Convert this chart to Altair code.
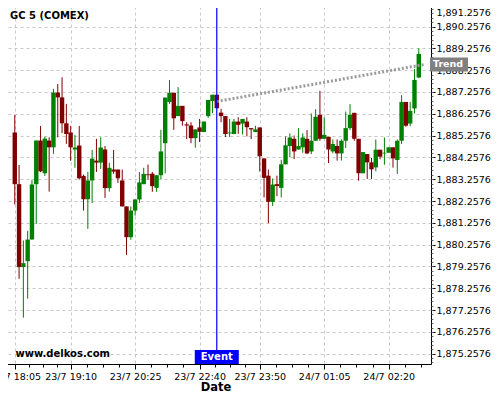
import altair as alt
import pandas as pd

# ---- candle data (5-minute bars, index = bar number) ----
opens = [
    1885.40, 1883.03, 1879.23, 1879.50, 1880.49, 1883.03, 1885.03, 1883.53, 1885.03, 1884.72,
    1887.23, 1887.01, 1885.82, 1885.40, 1884.62, 1884.80, 1883.41, 1882.34, 1883.20, 1884.11,
    1884.02, 1884.62, 1882.85, 1883.70, 1883.70, 1883.20, 1882.01, 1880.60, 1881.82, 1882.33,
    1883.03, 1883.48, 1883.51, 1882.86, 1883.44, 1884.91, 1886.80, 1887.22, 1886.15, 1886.62,
    1885.77, 1885.72, 1885.14, 1885.63, 1885.42, 1886.15, 1886.84, 1887.13, 1886.31, 1886.15,
    1885.36, 1885.33, 1885.90, 1885.81, 1885.90, 1885.60, 1885.42, 1885.63, 1884.21, 1883.42,
    1882.22, 1883.03, 1882.86, 1883.94, 1884.78, 1885.11, 1884.62, 1884.72, 1885.11, 1884.53,
    1885.02, 1886.21, 1885.11, 1885.20, 1884.53, 1884.78, 1884.44, 1885.02, 1885.60, 1886.30,
    1885.11, 1883.53, 1884.41, 1884.03, 1883.80, 1884.61, 1884.44, 1884.47, 1884.72, 1884.14,
    1885.02, 1886.80, 1885.81, 1886.50, 1887.92,
]
highs = [
    1886.20, 1883.91, 1880.45, 1880.89, 1883.23, 1885.03, 1885.70, 1885.21, 1885.18, 1887.40,
    1887.62, 1887.93, 1886.71, 1885.70, 1885.29, 1885.70, 1883.47, 1883.59, 1884.60, 1885.11,
    1885.18, 1884.78, 1884.01, 1884.60, 1883.70, 1883.70, 1882.01, 1882.01, 1882.33, 1883.59,
    1883.78, 1883.93, 1883.59, 1883.44, 1885.52, 1887.00, 1887.80, 1887.22, 1887.48, 1886.62,
    1885.87, 1885.87, 1885.54, 1886.02, 1885.90, 1886.89, 1887.13, 1887.13, 1886.48, 1886.15,
    1886.02, 1886.02, 1886.10, 1886.02, 1886.10, 1885.60, 1885.71, 1885.63, 1884.21, 1883.70,
    1883.29, 1883.42, 1884.15, 1885.22, 1885.36, 1885.26, 1885.60, 1885.36, 1885.51, 1886.27,
    1886.47, 1887.31, 1886.09, 1885.20, 1885.08, 1885.08, 1885.08, 1886.36, 1886.70, 1886.30,
    1885.11, 1884.50, 1884.41, 1884.23, 1885.08, 1884.61, 1885.17, 1884.72, 1884.72, 1885.08,
    1887.11, 1886.80, 1886.80, 1888.30, 1889.26,
]
lows = [
    1882.10, 1878.69, 1876.91, 1877.78, 1880.49, 1881.21, 1883.58, 1883.41, 1882.69, 1884.42,
    1885.18, 1885.37, 1884.88, 1884.10, 1883.78, 1883.24, 1881.82, 1880.98, 1882.17, 1883.59,
    1883.73, 1882.40, 1882.69, 1883.50, 1883.09, 1882.01, 1879.79, 1880.48, 1881.59, 1882.17,
    1883.03, 1883.24, 1882.68, 1882.68, 1883.26, 1883.52, 1886.71, 1885.52, 1886.15, 1885.71,
    1885.10, 1884.91, 1884.70, 1884.96, 1885.42, 1886.07, 1886.28, 1886.51, 1885.87, 1885.19,
    1885.19, 1885.33, 1885.34, 1885.31, 1885.22, 1885.10, 1885.42, 1883.61, 1882.42, 1881.24,
    1882.03, 1882.48, 1882.42, 1883.94, 1884.26, 1884.18, 1884.62, 1884.47, 1884.41, 1884.41,
    1885.02, 1885.02, 1885.11, 1884.00, 1884.44, 1884.11, 1884.11, 1884.69, 1885.51, 1885.02,
    1883.19, 1883.53, 1883.27, 1883.27, 1883.62, 1884.17, 1883.92, 1884.47, 1883.79, 1883.50,
    1884.87, 1885.66, 1885.69, 1886.27, 1887.89,
]
closes = [
    1883.03, 1879.23, 1879.41, 1880.49, 1883.01, 1885.03, 1883.62, 1885.12, 1884.72, 1887.23,
    1887.01, 1885.82, 1885.33, 1884.72, 1884.71, 1883.30, 1882.34, 1883.20, 1884.20, 1884.02,
    1884.71, 1882.85, 1883.78, 1883.61, 1883.30, 1882.01, 1880.60, 1881.82, 1882.33, 1883.11,
    1883.50, 1883.44, 1882.94, 1883.44, 1884.53, 1887.00, 1887.22, 1886.05, 1886.62, 1885.92,
    1885.72, 1885.14, 1885.54, 1885.43, 1885.90, 1886.89, 1887.13, 1886.51, 1886.15, 1885.33,
    1885.40, 1885.90, 1885.75, 1886.02, 1885.64, 1885.54, 1885.54, 1884.31, 1883.32, 1882.22,
    1883.01, 1882.95, 1883.94, 1884.81, 1885.17, 1884.53, 1884.78, 1885.17, 1884.44, 1885.02,
    1886.12, 1885.11, 1885.29, 1884.62, 1884.87, 1884.44, 1885.02, 1885.60, 1886.21, 1885.11,
    1883.53, 1884.50, 1884.03, 1883.71, 1884.61, 1884.29, 1884.47, 1884.72, 1884.21, 1885.02,
    1886.80, 1885.71, 1886.39, 1887.81, 1889.00,
]

# ---- axis ticks ----
tick_idx = [0, 13, 28, 43, 57, 72, 87]
tick_labels = ["23/7 18:05", "23/7 19:10", "23/7 20:25", "23/7 22:40",
               "23/7 23:50", "24/7 01:05", "24/7 02:20"]
minor_x = [3.25, 6.5, 9.75, 16.75, 20.5, 24.25, 31.75, 35.5, 39.25, 46.5, 50, 53.5,
           60.75, 64.5, 68.25, 75.75, 79.5, 83.25, 90.75, 94.5]
y_major = [round(1875.2576 + k, 4) for k in range(17)]
y_minor = [round(1874.8576 + 0.2 * k, 4) for k in range(84)]

# ---- annotations ----
event_idx = 47
trend_idx = [47, 95.4]
trend_val = [1886.82, 1888.52]

FONT = "DejaVu Sans"
xs = alt.Scale(domain=[-2.273, 95.68], nice=False, zero=False)
ys = alt.Scale(domain=[1874.786, 1891.473], nice=False, zero=False)

df = pd.DataFrame({"i": list(range(len(opens))), "open": opens, "high": highs,
                   "low": lows, "close": closes})
df["dir"] = ["up" if c >= o else "down" for o, c in zip(opens, closes)]
color = alt.Color("dir:N", scale=alt.Scale(domain=["up", "down"], range=["#008000", "#800000"]),
                  legend=None)

label_expr = " : ".join(f"datum.value == {v} ? '{t}'" for v, t in zip(tick_idx, tick_labels)) + " : ''"

x_major = alt.Axis(values=tick_idx, labelExpr=label_expr, orient="bottom", grid=True,
                   gridDash=[3, 3], gridColor="#c8c8c8", gridWidth=1, tickSize=5,
                   tickColor="black", domainColor="black", labelFont=FONT, labelFontSize=9.5,
                   labelColor="black", labelPadding=2, labelFlush=False, labelOverlap=False,
                   title="Date", titleFont=FONT, titleFontSize=11.5, titleFontWeight="bold",
                   titleColor="black", titleBaseline="alphabetic", titleY=26)
y_major_axis = alt.Axis(values=y_major, format=",.4f", orient="right", grid=True,
                        gridDash=[3, 3], gridColor="#c8c8c8", gridWidth=1, tickSize=4,
                        tickColor="black", domainColor="black", labelFont=FONT,
                        labelFontSize=9.5, labelColor="black", labelPadding=1,
                        labelOffset={"condition": {"test": "datum.value > 1891", "value": 8},
                                     "value": 0},
                        labelFlush=False, labelOverlap=False, title="")

wicks = alt.Chart(df).mark_rule(strokeWidth=1).encode(
    x=alt.X("i:Q", scale=xs, axis=x_major),
    y=alt.Y("low:Q", scale=ys, axis=y_major_axis),
    y2="high:Q",
    color=color,
)
bodies = alt.Chart(df).mark_bar(size=4.4).encode(
    x=alt.X("i:Q", scale=xs, axis=None),
    y=alt.Y("open:Q", scale=ys, axis=None),
    y2="close:Q",
    color=color,
)
minor = alt.Chart(df).mark_point(opacity=0).encode(
    x=alt.X("i:Q", scale=xs, axis=alt.Axis(values=minor_x, labels=False, grid=False,
                                            domain=False, tickSize=3, tickColor="black",
                                            orient="bottom", title="")),
    y=alt.Y("low:Q", scale=ys, axis=alt.Axis(values=y_minor, labels=False, grid=False,
                                              domain=False, tickSize=2, tickColor="#666666",
                                              orient="right", title="")),
)

ev = pd.DataFrame({"i": [event_idx]})
event_line = alt.Chart(ev).mark_rule(color="#0000ff", strokeWidth=1.2).encode(
    x=alt.X("i:Q", scale=xs, axis=None))
event_box = alt.Chart(ev).mark_rect(color="#0000ff", xOffset=-22, x2Offset=22).encode(
    x=alt.X("i:Q", scale=xs, axis=None), x2="i:Q",
    y=alt.value(350), y2=alt.value(364))
event_txt = alt.Chart(ev).mark_text(text="Event", color="white", font=FONT, fontSize=10,
                                    fontWeight="bold", align="center", baseline="middle").encode(
    x=alt.X("i:Q", scale=xs, axis=None), y=alt.value(357))

tr = pd.DataFrame({"i": trend_idx, "v": trend_val})
trend_line = alt.Chart(tr).mark_line(color="#9a9a9a", strokeWidth=3, strokeDash=[2, 2]).encode(
    x=alt.X("i:Q", scale=xs, axis=None), y=alt.Y("v:Q", scale=ys, axis=None))
tr_end = pd.DataFrame({"v": [trend_val[-1]]})
trend_box = alt.Chart(tr_end).mark_rect(color="#808080", yOffset=-7, y2Offset=7).encode(
    x=alt.value(430), x2=alt.value(468),
    y=alt.Y("v:Q", scale=ys, axis=None), y2="v:Q")
trend_txt = alt.Chart(tr_end).mark_text(text="Trend", color="white", font=FONT, fontSize=9.5,
                                        fontWeight="bold", align="left", baseline="middle").encode(
    x=alt.value(433), y=alt.Y("v:Q", scale=ys, axis=None))

title_txt = alt.Chart(pd.DataFrame({"t": ["GC 5 (COMEX)"]})).mark_text(
    font=FONT, fontSize=10, fontWeight="bold", color="black", align="left",
    baseline="alphabetic").encode(text="t:N", x=alt.value(10), y=alt.value(19))
site_txt = alt.Chart(pd.DataFrame({"t": ["www.delkos.com"]})).mark_text(
    font=FONT, fontSize=10, fontWeight="bold", color="black", align="left",
    baseline="alphabetic").encode(text="t:N", x=alt.value(15.5), y=alt.value(357))

chart = alt.layer(
    wicks, bodies, minor, trend_line, event_line, event_box, event_txt,
    trend_box, trend_txt, title_txt, site_txt,
).resolve_axis(x="independent", y="independent").properties(
    width=431, height=364,
    autosize=alt.AutoSizeParams(type="none"),
    padding={"left": -8, "top": -8, "right": 61, "bottom": 28},
).configure_view(stroke=None).configure(background="white")

chart.save("out.html", embed_options={"renderer": "svg", "actions": False})
